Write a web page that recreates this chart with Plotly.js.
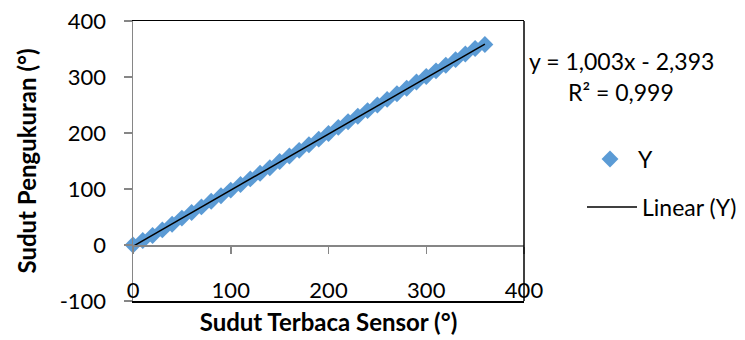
<!DOCTYPE html>
<html>
<head>
<meta charset="utf-8">
<script src="https://cdn.plot.ly/plotly-3.0.1.min.js"></script>
<style>html,body{margin:0;padding:0;background:#fff;}</style>
</head>
<body>
<div id="chart" style="width:745px;height:340px;"></div>
<script>
// Data
const sensorDeg = [0,10,20,30,40,50,60,70,80,90,100,110,120,130,140,150,160,170,180,190,200,210,220,230,240,250,260,270,280,290,300,310,320,330,340,350,360];
const measuredDeg = [0,8,17,27,37,48,58,68,78,88,98,108,118,128,138,149,159,169,179,189,199,210,220,230,240,250,260,270,280,291,301,311,321,331,341,351,358];
// Linear trendline endpoints (y = 1,003x - 2,393)
const trendX = [0, 360];
const trendY = [-2.393, 358.687];
const xTicks = [0,100,200,300,400];
const yTicks = [-100,0,100,200,300,400];
const eqText = "y = 1,003x - 2,393";
const r2Text = "R² = 0,999";

const FONT = "Lato, 'Open Sans', sans-serif";
const GRAY = "#868686";

const L = 133, R = 524, T = 21, B = 301, W = 745, H = 340;
const px = v => (v - L) / (R - L);
const py = v => (B - v) / (B - T);

const traces = [
  {
    x: sensorDeg, y: measuredDeg, type: 'scatter', mode: 'markers', name: 'Y',
    marker: {symbol: 'diamond', size: 13, color: '#5B9BD5'},
    legend: 'legend', cliponaxis: false
  },
  {
    x: trendX, y: trendY, type: 'scatter', mode: 'lines', name: 'Linear (Y)',
    line: {color: '#000000', width: 1.5},
    xaxis: 'x2', legend: 'legend2'
  }
];

const layout = {
  width: W, height: H,
  margin: {l: L, r: W - R, t: T, b: H - B, pad: 0, autoexpand: false},
  paper_bgcolor: '#ffffff', plot_bgcolor: '#ffffff',
  font: {family: FONT, size: 22, color: '#000000'},
  showlegend: true,
  xaxis: {
    range: [0, 400], tickvals: xTicks, ticktext: xTicks.map(String), automargin: false,
    showgrid: false, zeroline: false,
    showline: true, linecolor: '#000000', linewidth: 1.5, mirror: true,
    ticks: '', ticklabelposition: 'inside', ticklabeloverflow: 'allow',
    tickfont: {family: FONT, size: 22, color: '#000000'},
    title: {text: 'Sudut Terbaca Sensor (°)', font: {family: FONT, size: 24, color: '#000000', weight: 'bold'}, standoff: 12}
  },
  xaxis2: {
    range: [0, 400], tickvals: xTicks, overlaying: 'x', anchor: 'free', position: py(245), automargin: false,
    showgrid: false, zeroline: false, showticklabels: false,
    showline: true, linecolor: GRAY, linewidth: 1.5,
    ticks: 'outside', ticklen: 7, tickwidth: 1.5, tickcolor: GRAY
  },
  yaxis: {
    range: [-100, 400], tickvals: yTicks, ticktext: yTicks.map(String), automargin: false,
    showgrid: false, zeroline: false,
    showline: true, linecolor: GRAY, linewidth: 1.5,
    ticks: 'outside', ticklen: 8, tickwidth: 1.5, tickcolor: GRAY,
    ticklabelstandoff: 13,
    tickfont: {family: FONT, size: 22, color: '#000000'},
    title: {text: 'Sudut Pengukuran (°)', font: {family: FONT, size: 24, color: '#000000', weight: 'bold'}, standoff: 16}
  },
  shapes: [
    {type: 'line', xref: 'paper', yref: 'paper', x0: 1, x1: 1, y0: 0, y1: 1, line: {color: '#000000', width: 1.5}}
  ],
  legend: {
    x: px(582), y: py(159), xanchor: 'left', yanchor: 'middle',
    bgcolor: 'rgba(0,0,0,0)', borderwidth: 0,
    font: {family: FONT, size: 23, color: '#000000'}, itemwidth: 46
  },
  legend2: {
    x: px(582), y: py(207), xanchor: 'left', yanchor: 'middle',
    bgcolor: 'rgba(0,0,0,0)', borderwidth: 0,
    font: {family: FONT, size: 23, color: '#000000'}, itemwidth: 50
  },
  annotations: [
    {text: eqText, xref: 'paper', yref: 'paper', x: px(621), y: py(61), xanchor: 'center', yanchor: 'middle', showarrow: false, font: {family: FONT, size: 23, color: '#000000'}},
    {text: r2Text, xref: 'paper', yref: 'paper', x: px(621), y: py(92), xanchor: 'center', yanchor: 'middle', showarrow: false, font: {family: FONT, size: 23, color: '#000000'}}
  ]
};

Plotly.newPlot('chart', traces, layout, {displayModeBar: false, staticPlot: true});
</script>
</body>
</html>
